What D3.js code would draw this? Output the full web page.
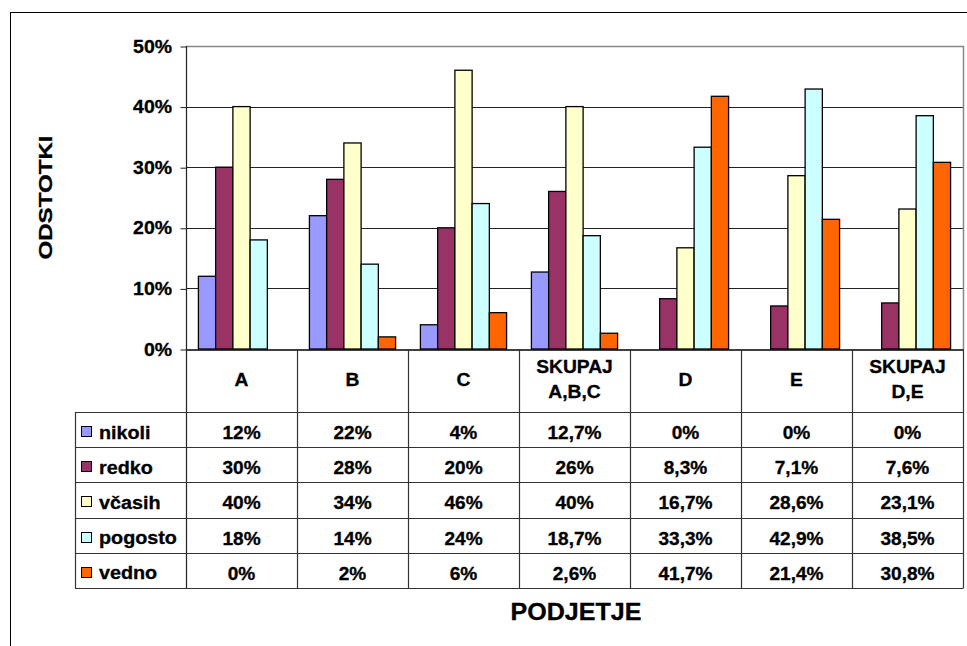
<!DOCTYPE html>
<html>
<head>
<meta charset="utf-8">
<script src="https://cdn.jsdelivr.net/npm/d3@7"></script>
<style>
  html, body { margin: 0; padding: 0; background: #fff; }
  svg { display: block; }
  text { font-family: "Liberation Sans", Arial, sans-serif; font-weight: 700; fill: #000; stroke: #000; stroke-width: 0.3px; }
</style>
</head>
<body>
<svg id="chart" width="967" height="646"></svg>
<script>
// Companies (columns) and answer categories (series)
const categories = ["A", "B", "C", "SKUPAJ\nA,B,C", "D", "E", "SKUPAJ\nD,E"];
const seriesNames = ["nikoli", "redko", "včasih", "pogosto", "vedno"];
const seriesColors = ["#9999FF", "#993366", "#FFFFCC", "#CCFFFF", "#FF6600"];

// Percentages per series, one value per category
const nikoli  = [12, 22, 4, 12.7, 0, 0, 0];
const redko   = [30, 28, 20, 26, 8.3, 7.1, 7.6];
const vcasih  = [40, 34, 46, 40, 16.7, 28.6, 23.1];
const pogosto = [18, 14, 24, 18.7, 33.3, 42.9, 38.5];
const vedno   = [0, 2, 6, 2.6, 41.7, 21.4, 30.8];
const seriesValues = [nikoli, redko, vcasih, pogosto, vedno];

const yTicks = [0, 10, 20, 30, 40, 50];

const svg = d3.select("#chart");

// Layout
const plot = { left: 186, right: 963, top: 46, bottom: 349 };
const tableHeaderBottom = 412;
const rowH = 35.2;
const tableBottom = tableHeaderBottom + rowH * seriesNames.length;
const legendLeft = 75;

// Text helper: wide, heavy labels (stretched along the baseline)
function label(parent, x, y, str, size, sx, anchor, rot) {
  const g = parent.append("g")
    .attr("transform", `translate(${x},${y})${rot ? ` rotate(${rot})` : ""} scale(${sx},1)`);
  g.append("text")
    .attr("text-anchor", anchor || "middle")
    .style("font-size", size + "px")
    .text(str);
  return g;
}

// Outer chart frame
svg.append("rect")
  .attr("x", 10.5).attr("y", 12.5)
  .attr("width", 1000).attr("height", 700)
  .attr("fill", "none").attr("stroke", "#000").attr("stroke-width", 1);

const x = d3.scaleBand().domain(d3.range(categories.length))
  .range([plot.left, plot.right]).paddingInner(0).paddingOuter(0);
const xs = d3.scaleBand().domain(d3.range(seriesNames.length))
  .range([0, x.bandwidth()]).paddingOuter(0.72).paddingInner(0);
const y = d3.scaleLinear().domain([0, 50]).range([plot.bottom, plot.top]);

// Gridlines
svg.append("g").selectAll("line").data(yTicks.filter(d => d > 0 && d < 50)).join("line")
  .attr("x1", plot.left).attr("x2", plot.right)
  .attr("y1", d => Math.round(y(d)) + 0.5).attr("y2", d => Math.round(y(d)) + 0.5)
  .attr("stroke", "#222").attr("stroke-width", 1);

// Plot area border (top and right)
svg.append("path")
  .attr("d", `M${plot.left},${Math.round(y(50)) + 0.5}H${plot.right + 0.5}V${plot.bottom}`)
  .attr("fill", "none").attr("stroke", "#888").attr("stroke-width", 1.5);

// Bars
seriesValues.forEach((vals, si) => {
  svg.append("g").selectAll("rect").data(vals).join("rect")
    .attr("x", (d, ci) => x(ci) + xs(si))
    .attr("width", xs.bandwidth())
    .attr("y", d => y(d))
    .attr("height", d => y(0) - y(d))
    .attr("fill", seriesColors[si])
    .attr("stroke", "#000").attr("stroke-width", 1.3);
});

// Y axis ticks
const yAxis = d3.axisLeft(y).tickValues(yTicks).tickFormat("").tickSize(6);
const yg = svg.append("g").attr("transform", `translate(${plot.left + 0.5},0.5)`).call(yAxis);
yg.select(".domain").remove();
yg.selectAll(".tick line").attr("stroke", "#222");
// Y tick labels
yTicks.forEach(t => label(svg, 172, y(t) + 6.5, t + "%", 18, 1.08, "end"));

// Category axis along the header row of the data table
const xAxis = d3.axisBottom(x).tickSize(0).tickFormat("");
svg.append("g").attr("transform", `translate(0,${plot.bottom + 0.5})`).call(xAxis)
  .select(".domain").attr("stroke", "#000").attr("stroke-width", 1.3);

// Vertical table lines (also the y axis line)
const vLines = d3.range(categories.length + 1).map(i => i < categories.length ? x(i) : plot.right);
svg.append("g").selectAll("line").data(vLines).join("line")
  .attr("x1", d => Math.round(d) + 0.5).attr("x2", d => Math.round(d) + 0.5)
  .attr("y1", (d, i) => i === 0 ? plot.top : plot.bottom)
  .attr("y2", tableBottom)
  .attr("stroke", (d, i) => i === 0 ? "#222" : "#333").attr("stroke-width", 1.2);

// Legend column left edge
svg.append("line")
  .attr("x1", legendLeft + 0.5).attr("x2", legendLeft + 0.5)
  .attr("y1", tableHeaderBottom).attr("y2", tableBottom)
  .attr("stroke", "#333").attr("stroke-width", 1.2);

// Horizontal table lines
const hLines = d3.range(seriesNames.length + 1).map(i => tableHeaderBottom + i * rowH);
svg.append("g").selectAll("line").data(hLines).join("line")
  .attr("x1", legendLeft).attr("x2", plot.right + 0.5)
  .attr("y1", d => Math.round(d) + 0.5).attr("y2", d => Math.round(d) + 0.5)
  .attr("stroke", "#333").attr("stroke-width", 1.2);

// Category headers
categories.forEach((c, ci) => {
  const lines = c.split("\n");
  const cx = x(ci) + x.bandwidth() / 2;
  const baselines = lines.length === 1 ? [386] : [373, 398];
  lines.forEach((ln, li) => label(svg, cx, baselines[li], ln, 17.5, 1.1, "middle"));
});

// Table values
const fmt = v => String(v).replace(".", ",") + "%";
seriesValues.forEach((vals, si) => {
  const base = tableHeaderBottom + si * rowH + 27;
  vals.forEach((v, ci) => label(svg, x(ci) + x.bandwidth() / 2, base, fmt(v), 17.5, 1.09, "middle"));
});

// Legend keys inside the table
seriesNames.forEach((name, si) => {
  const top = tableHeaderBottom + si * rowH;
  svg.append("rect")
    .attr("x", 81.5).attr("y", Math.round(top + 14) + 0.5)
    .attr("width", 10).attr("height", 10)
    .attr("fill", seriesColors[si]).attr("stroke", "#000").attr("stroke-width", 1);
  label(svg, 99, top + 26.5, name, 17.5, 1.13, "start");
});

// Axis titles
label(svg, 576, 620, "PODJETJE", 23, 1.09, "middle");
label(svg, 52, 197.5, "ODSTOTKI", 19, 1.27, "middle", -90);
</script>
</body>
</html>
